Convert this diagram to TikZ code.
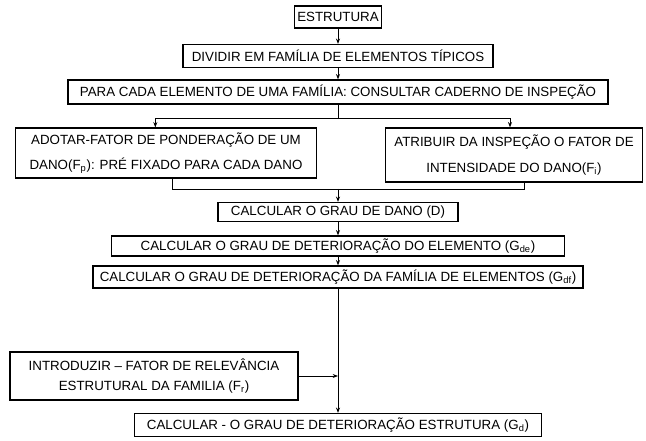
\documentclass[tikz,border=0pt]{standalone}
\usepackage{fontspec}
\setmainfont{Liberation Sans}
\usetikzlibrary{arrows.meta,positioning}

\begin{document}
\begin{tikzpicture}[
        x=0.75pt, y=-0.75pt,
        box/.style={draw, line width=0.9pt, inner sep=2pt, align=center, font=\fontsize{10}{12}\selectfont},
        tallbox/.style={box, font=\fontsize{10}{19}\selectfont},
        arrow/.style={-{Stealth[length=4pt,width=3pt]}, line width=0.6pt},
        link/.style={line width=0.6pt}
    ]
        \useasboundingbox (0,0) rectangle (646,441);

        \node[box, minimum width=62pt, minimum height=16.5pt] (estrutura) at (338,17) {ESTRUTURA};
        \node[box, minimum width=232.5pt, minimum height=17.25pt] (dividir) at (338,56) {DIVIDIR EM FAMÍLIA DE ELEMENTOS TÍPICOS};
        \node[box, minimum width=405pt, minimum height=18pt] (consultar) at (338,92) {PARA CADA ELEMENTO DE UMA FAMÍLIA: CONSULTAR CADERNO DE INSPEÇÃO};
        \node[tallbox, minimum width=225.75pt, minimum height=37.5pt] (ponderacao) at (166,153) {ADOTAR-FATOR DE PONDERAÇÃO DE UM\\DANO(F\textsubscript{p}): PRÉ FIXADO PARA CADA DANO};
        \node[tallbox, minimum width=192.75pt, minimum height=40.5pt] (intensidade) at (514,155) {ATRIBUIR DA INSPEÇÃO O FATOR DE\\INTENSIDADE DO DANO(F\textsubscript{i})};
        \node[box, minimum width=180pt, minimum height=14.25pt] (dano) at (338,212) {CALCULAR O GRAU DE DANO (D)};
        \node[box, minimum width=340pt, minimum height=15pt] (gde) at (338,246) {CALCULAR O GRAU DE DETERIORAÇÃO DO ELEMENTO (G\textsubscript{de})};
        \node[box, minimum width=367.5pt, minimum height=16.5pt] (gdf) at (338,277) {CALCULAR O GRAU DE DETERIORAÇÃO DA FAMÍLIA DE ELEMENTOS (G\textsubscript{df})};
        \node[box, font=\fontsize{10}{15}\selectfont, minimum width=216pt, minimum height=36pt] (relevancia) at (154,376) {INTRODUZIR – FATOR DE RELEVÂNCIA\\ESTRUTURAL DA FAMILIA (F\textsubscript{r})};
        \node[box, minimum width=305pt, minimum height=17.25pt] (gd) at (338,425) {CALCULAR - O GRAU DE DETERIORAÇÃO ESTRUTURA (G\textsubscript{d})};

        \coordinate (split) at (338,118);
        \coordinate (merge) at (338,189);

        \draw[arrow] (estrutura) -- (dividir);
        \draw[arrow] (dividir) -- (consultar);
        \draw[link] (consultar) -- (split);
        \draw[arrow] (split) -| ([xshift=-8pt]ponderacao.north);
        \draw[arrow] (split) -| ([xshift=-3pt]intensidade.north);
        \draw[link] ([xshift=5pt]ponderacao.south) |- (merge);
        \draw[link] ([xshift=8pt]intensidade.south) |- (merge);
        \draw[arrow] (merge) -- (dano);
        \draw[arrow] (dano) -- (gde);
        \draw[arrow] (gde) -- (gdf);
        \draw[arrow] (gdf) -- (gd);
        \draw[arrow] (relevancia.east) -- (relevancia.east -| gdf.south);
    \end{tikzpicture}
\end{document}
